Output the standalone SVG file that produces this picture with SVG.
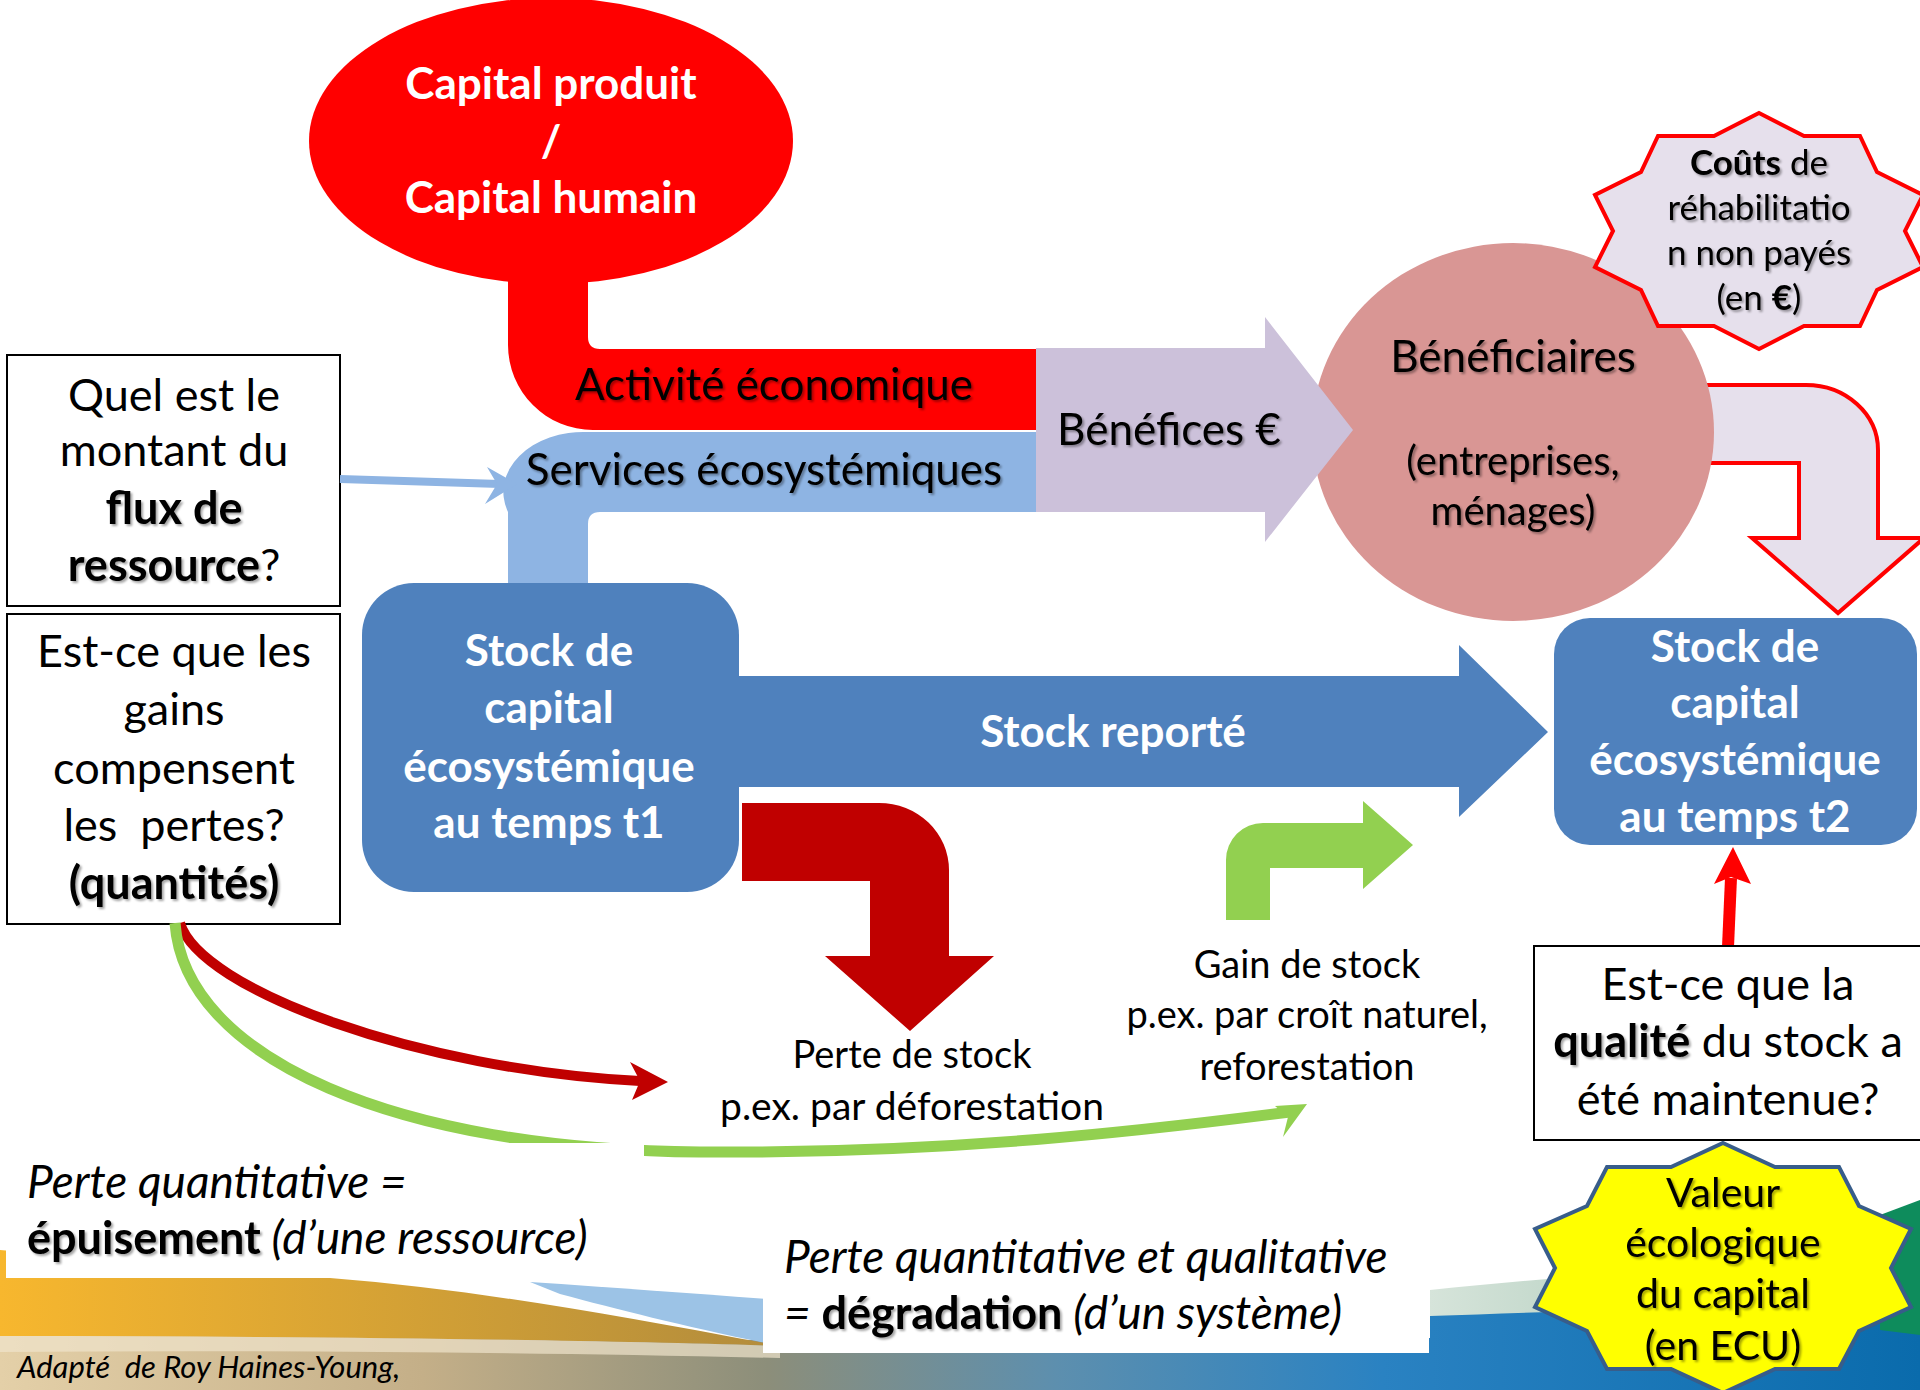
<svg xmlns="http://www.w3.org/2000/svg" width="1920" height="1390" viewBox="0 0 1920 1390">
<defs>
<style>
text{font-family:Lato,"Liberation Sans",sans-serif;fill:#000}
.c{text-anchor:middle}
.b{font-weight:bold}
.i{font-style:italic}
.w{fill:#fff;font-weight:bold}
.sh{filter:url(#sh)}
.box{fill:#fff;stroke:#000;stroke-width:2}
</style>
<filter id="sh" x="-5%" y="-20%" width="115%" height="150%">
<feDropShadow dx="2" dy="2" stdDeviation="1.2" flood-color="#000" flood-opacity="0.35"/>
</filter>
<linearGradient id="gBase" x1="0" y1="0" x2="1" y2="0">
<stop offset="0" stop-color="#E4D0A8"/>
<stop offset="0.22" stop-color="#C4AF88"/>
<stop offset="0.4" stop-color="#8C8E7A"/>
<stop offset="0.55" stop-color="#5D8FAE"/>
<stop offset="0.72" stop-color="#2A82C2"/>
<stop offset="1" stop-color="#0A6BAC"/>
</linearGradient>
<linearGradient id="gGold" x1="0" y1="0" x2="1" y2="0">
<stop offset="0" stop-color="#F7B72E"/>
<stop offset="1" stop-color="#B28C3C"/>
</linearGradient>
<linearGradient id="gSage" x1="0" y1="0" x2="1" y2="0">
<stop offset="0" stop-color="#D6E4DA"/>
<stop offset="1" stop-color="#8FB8A4"/>
</linearGradient>
</defs>

<rect width="1920" height="1390" fill="#fff"/>

<g id="background">
<path d="M0,1332 C400,1336 800,1345 1430,1338 L1430,1310 C1600,1303 1800,1298 1920,1292 L1920,1390 L0,1390 Z" fill="url(#gBase)"/>
<path d="M1430,1290 C1600,1272 1800,1262 1920,1252 L1920,1300 C1800,1304 1600,1310 1430,1316 Z" fill="url(#gSage)"/>
<path d="M1880,1215 L1920,1200 L1920,1335 L1880,1330 Z" fill="#0E8C5C"/>
<path d="M530,1282 C620,1288 700,1294 780,1300 L780,1346 C690,1328 620,1310 560,1294 Z" fill="#9CC3E6"/>
<path d="M0,1250 L330,1278 C480,1290 620,1316 780,1346 C600,1340 300,1336 0,1336 Z" fill="url(#gGold)"/>
<path d="M0,1336 C300,1336 600,1340 780,1346 L780,1358 C500,1352 250,1350 0,1352 Z" fill="#EFE4CC" opacity="0.7"/>
</g>

<g id="couts-arrow">
<path d="M1650,385 L1806,385 A72,65 0 0 1 1878,450 L1878,538 L1924,538 L1838,613 L1752,538 L1799,538 L1799,463 L1650,463 Z" fill="#E6E0EC" stroke="#FF0000" stroke-width="4"/>
</g>

<g id="beneficiaires">
<ellipse cx="1513" cy="432" rx="201" ry="189" fill="#D99694"/>
<text class="c sh" x="1513" y="372" font-size="44">Bénéficiaires</text>
<text class="c sh" x="1513" y="475" font-size="40">(entreprises,</text>
<text class="c sh" x="1513" y="525" font-size="40">ménages)</text>
</g>

<g id="benefices">
<path d="M1036,348 L1265,348 L1265,317 L1353,430 L1265,542 L1265,512 L1036,512 Z" fill="#CCC1DA"/>
<text class="c sh" x="1169" y="445" font-size="44">Bénéfices €</text>
</g>

<g id="activite">
<path d="M508,200 L588,200 L588,337 Q588,349 600,349 L1036,349 L1036,430 L593,430 A85,85 0 0 1 508,345 Z" fill="#FF0000"/>
<text class="c sh" x="774" y="400" font-size="44">Activité économique</text>
</g>

<g id="capital-produit">
<ellipse cx="551" cy="141" rx="242" ry="143" fill="#FF0000"/>
<text class="c w" x="551" y="99" font-size="44">Capital produit</text>
<text class="c w" x="551" y="157" font-size="44">/</text>
<text class="c w" x="551" y="213" font-size="44">Capital humain</text>
</g>

<g id="services">
<path d="M508,590 L508,512 A80,60 0 0 1 588,432 L1036,432 L1036,512 L600,512 Q588,512 588,524 L588,590 Z" fill="#8EB4E3"/>
<text class="c sh" x="764" y="485" font-size="44">Services écosystémiques</text>
</g>

<g id="stock-t1">
<rect x="362" y="583" width="377" height="309" rx="52" ry="52" fill="#4F81BD"/>
<text class="c w" x="549" y="666" font-size="44">Stock de</text>
<text class="c w" x="549" y="723" font-size="44">capital</text>
<text class="c w" x="549" y="782" font-size="44">écosystémique</text>
<text class="c w" x="549" y="838" font-size="44">au temps t1</text>
</g>

<g id="stock-reporte">
<path d="M739,676 L1459,676 L1459,645 L1548,732 L1459,817 L1459,787 L739,787 Z" fill="#4F81BD"/>
<text class="c w" x="1113" y="747" font-size="44">Stock reporté</text>
</g>

<g id="perte-stock">
<path d="M742,803 L879,803 A70,67 0 0 1 949,870 L949,956 L994,956 L910,1031 L825,956 L870,956 L870,881 L742,881 Z" fill="#C00000"/>
<text class="c" x="912" y="1068" font-size="38">Perte de stock</text>
<text class="c" x="912" y="1120" font-size="39">p.ex. par déforestation</text>
</g>

<g id="gain-stock">
<path d="M1226,920 L1226,860 A37,37 0 0 1 1263,823 L1363,823 L1363,801 L1413,845 L1363,889 L1363,868 L1270,868 L1270,920 Z" fill="#92D050"/>
<text class="c" x="1307" y="978" font-size="38">Gain de stock</text>
<text class="c" x="1307" y="1028" font-size="38">p.ex. par croît naturel,</text>
<text class="c" x="1307" y="1080" font-size="38">reforestation</text>
</g>

<g id="stock-t2">
<rect x="1554" y="618" width="363" height="227" rx="36" ry="36" fill="#4F81BD"/>
<text class="c w" x="1735" y="662" font-size="44">Stock de</text>
<text class="c w" x="1735" y="718" font-size="44">capital</text>
<text class="c w" x="1735" y="775" font-size="44">écosystémique</text>
<text class="c w" x="1735" y="832" font-size="44">au temps t2</text>
</g>

<g id="question-flux">
<rect class="box" x="7" y="355" width="333" height="251"/>
<text class="c" x="174" y="411" font-size="45">Quel est le</text>
<text class="c" x="174" y="466" font-size="45">montant du</text>
<text class="c b sh" x="174" y="524" font-size="45">flux de</text>
<text class="c" x="174" y="581" font-size="45"><tspan class="b sh">ressource</tspan>?</text>
</g>

<g id="question-gains">
<rect class="box" x="7" y="614" width="333" height="310"/>
<text class="c" x="174" y="667" font-size="45">Est-ce que les</text>
<text class="c" x="174" y="725" font-size="45">gains</text>
<text class="c" x="174" y="784" font-size="45">compensent</text>
<text class="c" x="174" y="841" font-size="45" xml:space="preserve">les  pertes?</text>
<text class="c b sh" x="174" y="899" font-size="45">(quantités)</text>
</g>

<g id="connectors">
<line x1="340" y1="479" x2="500" y2="484" stroke="#8EB4E3" stroke-width="8"/>
<polygon points="517,484 487,467 497,484 485,504" fill="#8EB4E3"/>
<path d="M180,923 C200,990 420,1070 640,1081" fill="none" stroke="#C00000" stroke-width="10"/>
<polygon points="668,1082 630,1062 640,1081 632,1100" fill="#C00000"/>
<path d="M175,923 C185,1060 400,1150 700,1152 C950,1154 1150,1130 1290,1112" fill="none" stroke="#92D050" stroke-width="11"/>
<polygon points="1307,1104 1275,1106 1288,1117 1283,1137" fill="#92D050"/>
<line x1="1728" y1="947" x2="1731" y2="878" stroke="#FF0000" stroke-width="12"/>
<polygon points="1733,847 1714,884 1731,877 1751,884" fill="#FF0000"/>
</g>

<g id="epuisement">
<rect x="6" y="1143" width="638" height="135" fill="#fff"/>
<text class="i" x="27" y="1198" font-size="46">Perte quantitative =</text>
<text x="27" y="1254" font-size="46"><tspan class="b sh" font-size="45">épuisement</tspan><tspan class="i"> (d’une ressource)</tspan></text>
</g>

<g id="degradation">
<rect x="763" y="1215" width="666" height="138" fill="#fff"/>
<text class="i" x="784" y="1273" font-size="46">Perte quantitative et qualitative</text>
<text x="784" y="1329" font-size="46"><tspan class="i">= </tspan><tspan class="b sh" font-size="45">dégradation</tspan><tspan class="i"> (d’un système)</tspan></text>
</g>

<g id="source">
<text class="i" x="17" y="1378" font-size="31" xml:space="preserve">Adapté  de Roy Haines-Young,</text>
</g>

<g id="couts">
<polygon points="1759,113 1804,136 1860,136 1877,172 1923,195 1905,231 1923,267 1877,290 1860,326 1804,326 1759,349 1714,326 1658,326 1641,290 1595,267 1613,231 1595,195 1641,172 1658,136 1714,136" fill="#E6E0EC" stroke="#FF0000" stroke-width="4"/>
<text class="c sh" x="1759" y="175" font-size="35"><tspan class="b">Coûts</tspan> de</text>
<text class="c sh" x="1759" y="220" font-size="35">réhabilitatio</text>
<text class="c sh" x="1759" y="265" font-size="35">n non payés</text>
<text class="c sh" x="1759" y="310" font-size="35">(en <tspan class="b">€</tspan>)</text>
</g>

<g id="question-qualite">
<rect class="box" x="1534" y="946" width="390" height="194"/>
<text class="c" x="1728" y="1000" font-size="45">Est-ce que la</text>
<text class="c" x="1728" y="1057" font-size="45"><tspan class="b sh">qualité</tspan> du stock a</text>
<text class="c" x="1728" y="1115" font-size="45">été maintenue?</text>
</g>

<g id="valeur">
<polygon points="1723,1143 1775,1167 1839,1167 1859,1206 1911,1229 1891,1268 1911,1307 1859,1331 1839,1369 1775,1369 1723,1393 1671,1369 1607,1369 1587,1331 1535,1307 1555,1268 1535,1229 1587,1206 1607,1167 1671,1167" fill="#FFFF00" stroke="#385D8A" stroke-width="4"/>
<text class="c sh" x="1723" y="1207" font-size="41">Valeur</text>
<text class="c sh" x="1723" y="1257" font-size="41">écologique</text>
<text class="c sh" x="1723" y="1308" font-size="41">du capital</text>
<text class="c sh" x="1723" y="1360" font-size="41">(en ECU)</text>
</g>
</svg>
